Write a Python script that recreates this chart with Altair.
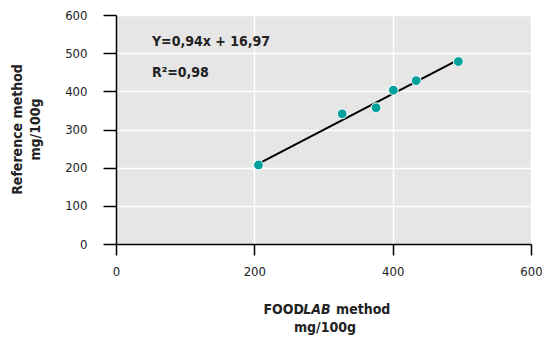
import altair as alt
import pandas as pd

foodlab = [206, 327, 376, 401, 434, 495]
reference = [207, 341, 357, 403, 428, 478]
fit_x = [209, 489]
fit_y = [213, 477]
x_ticks = [0, 200, 400, 600]
y_ticks = [0, 100, 200, 300, 400, 500, 600]

FONT = "DejaVu Sans Condensed"
W, H = 415, 229

pts = pd.DataFrame({"x": foodlab, "y": reference})
fit = pd.DataFrame({"x": fit_x, "y": fit_y})

xs = alt.Scale(domain=[0, 600], nice=False)
ys = alt.Scale(domain=[0, 600], nice=False)

xaxis = alt.Axis(values=x_ticks, title=None, grid=True, gridColor="white", gridWidth=1.5,
                 domainColor="black", domainWidth=1.5, tickColor="black", tickWidth=1.5,
                 tickSize=11, labelPadding=10, labelFont=FONT, labelFontSize=13,
                 labelColor="#222", labelOverlap=False, labelFlush=False)
yaxis = alt.Axis(values=y_ticks, title=None, grid=True, gridColor="white", gridWidth=1.5,
                 domainColor="black", domainWidth=1.5, tickColor="black", tickWidth=1.5,
                 tickSize=13, labelPadding=16, labelFont=FONT, labelFontSize=13,
                 labelColor="#222", labelOverlap=False, labelFlush=False)

X = alt.X("x:Q", scale=xs, axis=xaxis)
Y = alt.Y("y:Q", scale=ys, axis=yaxis)

line = alt.Chart(fit).mark_line(color="black", strokeWidth=2).encode(x=X, y=Y)
points = alt.Chart(pts).mark_circle(size=95, color="#00a09d", opacity=1,
                                     stroke="white", strokeWidth=1).encode(x=X, y=Y)

def txt(t, x, y, **kw):
    base = dict(font=FONT, fontSize=14, fontWeight="bold", color="#222", baseline="middle")
    base.update(kw)
    return alt.Chart(pd.DataFrame({"t": [t]})).mark_text(**base).encode(
        text="t:N", x=alt.value(x), y=alt.value(y))

eq = txt("Y=0,94x + 16,97", 36, 27, align="left")
r2 = txt("R²=0,98", 36, 58, align="left")

# x axis title with italic LAB
xt1 = txt("FOOD", 188, 295, align="right")
xt2 = txt("LAB", 201, 295, align="center", fontStyle="italic")
xt3 = txt("method", 220, 295, align="left")
xt4 = txt("mg/100g", 209, 313, align="center")

yt1 = txt("Reference method", -98, 114.5, align="center", angle=270)
yt2 = txt("mg/100g", -80, 114.5, align="center", angle=270)

chart = alt.layer(line, points, eq, r2, xt1, xt2, xt3, xt4, yt1, yt2).properties(
    width=W, height=H,
    autosize=alt.AutoSizeParams(type="none"),
    padding={"left": 108, "top": 7, "right": 11, "bottom": 97},
).configure_view(fill="#e6e6e6", stroke=None)

chart.save("out.html", embed_options={"renderer": "svg", "actions": False})
